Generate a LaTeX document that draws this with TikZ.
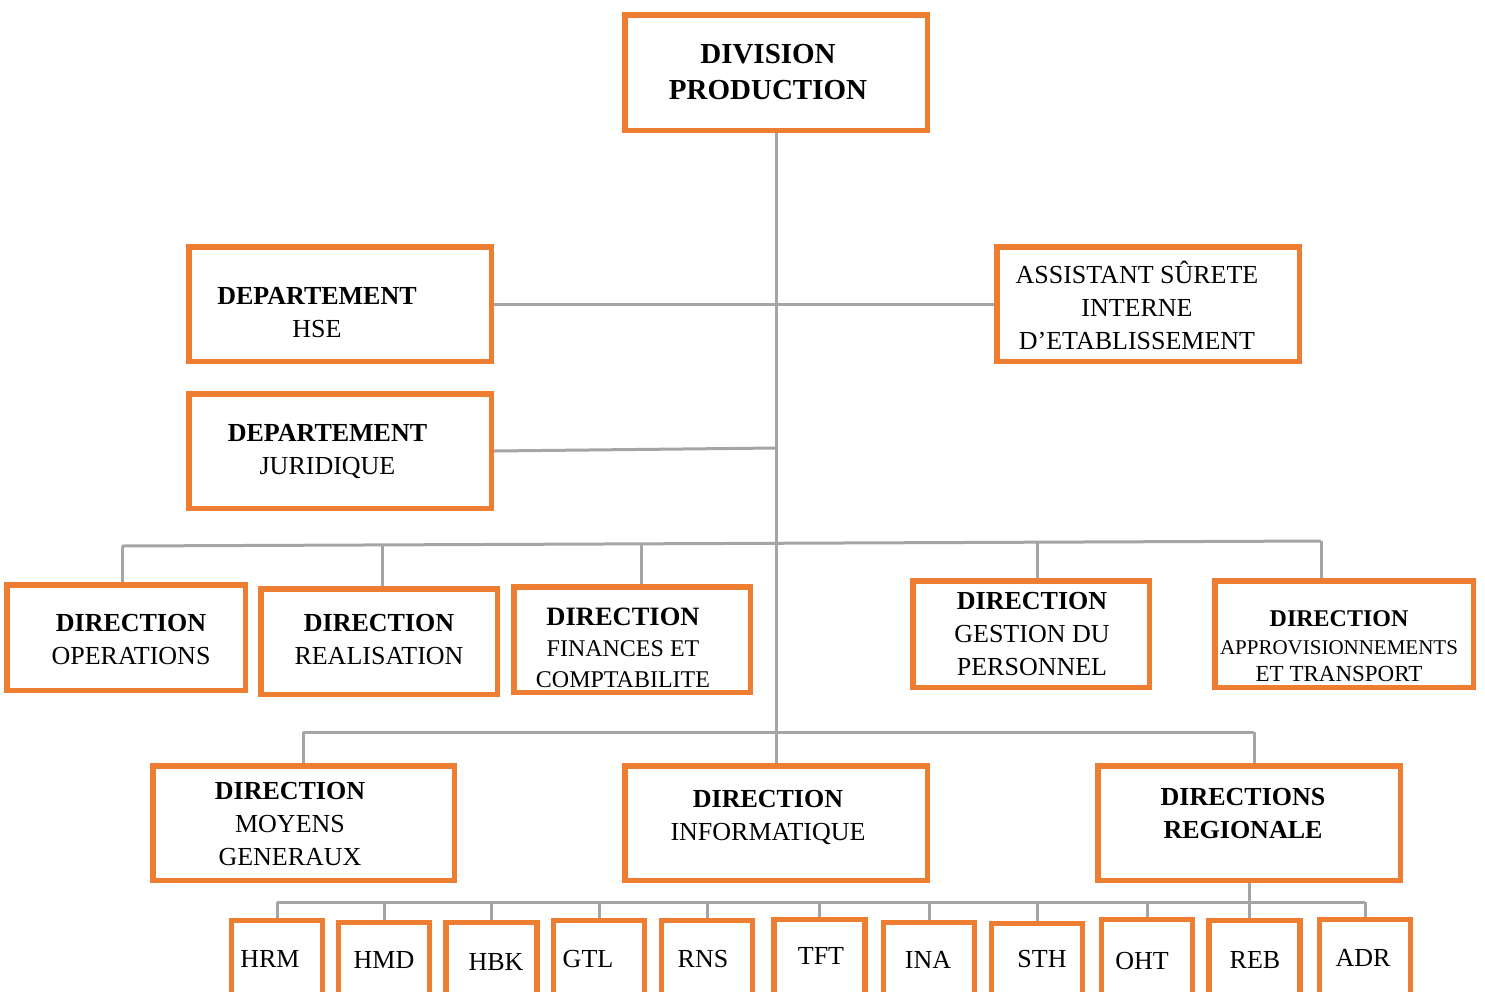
\documentclass[tikz,border=0pt]{standalone}
\usepackage{fontspec}
\setmainfont{Liberation Serif}
\usetikzlibrary{backgrounds}
\definecolor{boxorange}{HTML}{ED7D31}
\definecolor{linkgrey}{HTML}{A5A5A5}
\begin{document}
\begin{tikzpicture}[x=1pt,y=-1pt,
  box/.style={draw=boxorange, line width=5.5pt, fill=white,
    minimum width=302.5pt, minimum height=114.5pt, inner sep=0pt},
  dbox/.style={box, minimum width=237pt, minimum height=105.5pt},
  leaf/.style={box, minimum width=91pt, minimum height=85pt},
  link/.style={draw=linkgrey, line width=3pt},
  txt/.style={font=\fontsize{26}{33}\selectfont, align=center, inner sep=0pt}]

\useasboundingbox (0,0) rectangle (1485,991);
\clip (0,0) rectangle (1485,991);

% head of the division
\node[box, minimum height=115.5pt] (div) at (776,72.5) {};
\node[txt, font=\bfseries\fontsize{29}{36}\selectfont] (div-t) at (768,72) {DIVISION\\PRODUCTION};

% staff units
\node[box] (hse) at (340,304) {};
\node[txt] (hse-t) at (317,313) {\textbf{DEPARTEMENT}\\HSE};
\node[box] (ase) at (1148,304) {};
\node[txt] (ase-t) at (1137,305.5) {ASSISTANT SÛRETE\\INTERNE\\D’ETABLISSEMENT};
\node[box] (jur) at (340,451) {};
\node[txt] (jur-t) at (327.5,451.5) {\textbf{DEPARTEMENT}\\JURIDIQUE};

% first row of directions
\node[dbox, minimum width=238.5pt] (ope) at (126,637.5) {};
\node[txt] (ope-t) at (131,639.5) {\textbf{DIRECTION}\\OPERATIONS};
\node[dbox, minimum width=236.5pt] (rea) at (379,641.5) {};
\node[txt] (rea-t) at (379,639.5) {\textbf{DIRECTION}\\REALISATION};
\node[dbox, minimum width=236.5pt] (fin) at (632,639.5) {};
\node[txt, font=\fontsize{24}{31}\selectfont] (fin-t) at (623,648)
  {{\bfseries\fontsize{26.5}{31}\selectfont DIRECTION}\\FINANCES ET\\COMPTABILITE};
\node[dbox, minimum width=236.5pt, minimum height=106.5pt] (ges) at (1031,634) {};
\node[txt] (ges-t) at (1032,634) {\textbf{DIRECTION}\\GESTION DU\\PERSONNEL};
\node[dbox, minimum width=258.5pt, minimum height=106.5pt] (app) at (1344,634) {};
\node[txt, font=\fontsize{22}{27.5}\selectfont] (app-t) at (1339,646.5)
  {{\bfseries\fontsize{24}{27.5}\selectfont DIRECTION}\\{\fontsize{21}{27.5}\selectfont APPROVISIONNEMENTS}\\{\fontsize{23}{27.5}\selectfont ET TRANSPORT}};

% second row of directions
\node[box, minimum width=301.5pt] (moy) at (303.5,823) {};
\node[txt] (moy-t) at (290,824.5) {\textbf{DIRECTION}\\MOYENS\\GENERAUX};
\node[box] (inf) at (776,823) {};
\node[txt] (inf-t) at (768,817.5) {\textbf{DIRECTION}\\INFORMATIQUE};
\node[box] (reg) at (1249,823) {};
\node[txt, font=\bfseries\fontsize{26}{33}\selectfont] (reg-t) at (1243,813.5) {DIRECTIONS\\REGIONALE};

% regional directions
\foreach \n/\x/\y/\t/\tx/\ty in {
  hrm/277/963/HRM/270/959, hmd/384/965/HMD/384/960, hbk/491.5/965/HBK/496/962,
  gtl/599/963/GTL/588/959, rns/707/963/RNS/703/959, tft/819.5/962/TFT/821/956,
  ina/929/965/INA/928/960, sth/1037/966/STH/1042/959, oht/1147/962/OHT/1142/961,
  reb/1254.5/963/REB/1255/960, adr/1365/962/ADR/1363/958} {
  \node[leaf] (\n) at (\x,\y) {};
  \node[txt] (\n-t) at (\tx,\ty) {\t};
}

\begin{scope}[on background layer]
  % main trunk and staff links
  \draw[link] (div) -- (inf);
  \draw[link] (hse) -- (ase);
  \coordinate (jt) at (776,448);
  \draw[link] (jur.east) -- (jt);

  % first bus
  \coordinate (b1l) at (122,546);
  \coordinate (b1a) at (382,545);
  \coordinate (b1b) at (641,544);
  \coordinate (b1c) at (1037,542);
  \coordinate (b1r) at (1321,541);
  \draw[link] (b1l) -- (b1r);
  \draw[link] (b1l) -- (b1l |- ope.north);
  \draw[link] (b1a) -- (b1a |- rea.north);
  \draw[link] (b1b) -- (b1b |- fin.north);
  \draw[link] (b1c) -- (b1c |- ges.north);
  \draw[link] (b1r) -- (b1r |- app.north);

  % second bus
  \coordinate (b2l) at (303,732);
  \coordinate (b2r) at (1254,732);
  \draw[link] (b2l) -- (b2r);
  \draw[link] (b2l) -- (b2l |- moy.north);
  \draw[link] (b2r) -- (b2r |- reg.north);

  % regional bus
  \coordinate (b3l) at (277,902);
  \coordinate (b3r) at (1365,902);
  \draw[link] (b3l) -- (b3r);
  \draw[link] (reg.south) -- (reg.south |- reb.north);
  \foreach \n in {hrm,hmd,hbk,gtl,rns,tft,ina,sth,oht,adr}
    \draw[link] (\n.north |- b3l) -- (\n.north);
\end{scope}
\end{tikzpicture}
\end{document}
